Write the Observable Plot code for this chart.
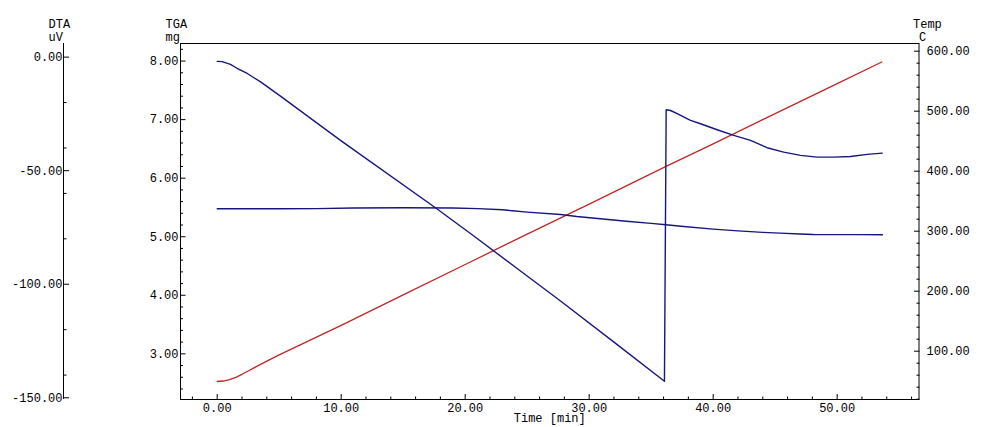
<!DOCTYPE html>
<html><head><meta charset="utf-8">
<script src="https://cdn.jsdelivr.net/npm/d3@7"></script>
<script src="https://cdn.jsdelivr.net/npm/@observablehq/plot@0.6"></script>
<style>
html,body{margin:0;padding:0;background:#fff;}
</style>
</head><body><div id="chart"></div>
<script>
// ---- data ----
const tgaTime = [0, 5, 8, 11, 15, 19, 21, 23, 23.8, 25, 27.7, 29, 30.9, 33, 35, 36.2, 37.4, 40, 42, 44, 45.4, 47, 48.1, 50, 52, 53.65];
const tgaMg   = [5.478, 5.478, 5.48, 5.49, 5.495, 5.49, 5.48, 5.46, 5.443, 5.42, 5.38, 5.345, 5.307, 5.265, 5.228, 5.204, 5.18, 5.13, 5.10, 5.075, 5.061, 5.046, 5.039, 5.036, 5.035, 5.034];

const dtaTime = [0, 0.4, 1.07, 1.6, 2.42, 3.5, 5.10, 10, 17.6, 20.56, 24, 27.69, 32, 36.07, 36.21, 36.56, 37.10, 38.17, 38.98, 40.32, 41.66, 43.01, 44.35, 45.69, 47.04, 48.39, 49.73, 51.07, 52.42, 53.63];
const dtaUv   = [-1.89, -1.98, -3.21, -4.9, -7.2, -10.9, -17.2, -36.9, -66.3, -78.2, -92.3, -107.4, -125.5, -142.7, -23.16, -23.5, -24.92, -27.87, -29.33, -31.97, -34.48, -36.68, -39.89, -41.83, -43.28, -44.03, -44.03, -43.73, -42.84, -42.27];

const tempTime = [0, 0.5, 1, 1.5, 2, 2.5, 3, 4, 5, 10, 15, 20, 25, 30, 36.2, 40, 45, 50, 53.6];
const tempC    = [49.5, 50.3, 52.5, 56.5, 61.5, 67, 72.5, 83.5, 93.8, 143, 194, 244.5, 295, 345, 408, 445.5, 496, 546, 582];

// ---- ticks ----
const timeMajorTicks = [0, 10, 20, 30, 40, 50];
const timeMinorTicks = [-2, 2, 4, 6, 8, 12, 14, 16, 18, 22, 24, 26, 28, 32, 34, 36, 38, 42, 44, 46, 48, 52, 54, 56];
const tgaMajorTicks = [3, 4, 5, 6, 7, 8];
const tgaMinorTicks = [2.4, 2.6, 2.8, 3.2, 3.4, 3.6, 3.8, 4.2, 4.4, 4.6, 4.8, 5.2, 5.4, 5.6, 5.8, 6.2, 6.4, 6.6, 6.8, 7.2, 7.4, 7.6, 7.8, 8.2];
const dtaMajorTicks = [0, -50, -100, -150];
const dtaMinorTicks = [-20, -40, -60, -80, -120, -140];
const tempMajorTicks = [100, 200, 300, 400, 500, 600];
const tempMinorTicks = [20, 40, 60, 80, 120, 140, 160, 180, 220, 240, 260, 280, 320, 340, 360, 380, 420, 440, 460, 480, 520, 540, 560, 580];

// ---- axis titles ----
const dtaTitle = ["DTA", "uV"];
const tgaTitle = ["TGA", "mg"];
const tempTitle = ["Temp", "C"];
const timeTitle = "Time [min]";

// ---- scale domains ----
const timeDomain = [-2.96, 56.6];
const tgaDomain = [2.22, 8.30];
const dtaDomain = [-150.75, 6.0];
const tempDomain = [19.5, 612.8];

const dtaToY = d3.scaleLinear(dtaDomain, tgaDomain);
const tempToY = d3.scaleLinear(tempDomain, tgaDomain);

const tga = tgaTime.map((t, i) => ({t, v: tgaMg[i]}));
const dta = dtaTime.map((t, i) => ({t, v: dtaUv[i]}));
const temp = tempTime.map((t, i) => ({t, v: tempC[i]}));

const blue = "#16167e";
const red = "#c02626";
const fmt = v => (Math.round(v * 100) / 100).toFixed(2);
const noLabel = () => "";
const title = (txt, anchor, dx, dy) =>
  Plot.text([txt], {frameAnchor: anchor, dx, dy, textAnchor: "start", lineAnchor: "bottom"});

const chart = Plot.plot({
  width: 988, height: 427,
  marginLeft: 180, marginRight: 69.5, marginTop: 43, marginBottom: 28,
  style: {fontFamily: '"Liberation Mono", "DejaVu Sans Mono", monospace', fontSize: "12px", color: "#000", background: "#fff", overflow: "visible"},
  x: {domain: timeDomain},
  y: {domain: tgaDomain},
  marks: [
    Plot.frame({stroke: "#000"}),
    // time axis
    Plot.axisX(timeMajorTicks, {anchor: "bottom", tickSize: -5, tickPadding: 8.5, tickFormat: fmt, label: null}),
    Plot.axisX(timeMinorTicks, {anchor: "bottom", tickSize: -2.5, tickFormat: noLabel, label: null}),
    // TGA axis
    Plot.axisY(tgaMajorTicks, {anchor: "left", tickSize: -5.5, tickPadding: 7.5, tickFormat: fmt, label: null}),
    Plot.axisY(tgaMinorTicks, {anchor: "left", tickSize: -3, tickFormat: noLabel, label: null}),
    // DTA axis (offset to the left)
    Plot.ruleX([timeDomain[0]], {dx: -117, stroke: "#000"}),
    Plot.axisY(dtaMajorTicks.map(dtaToY), {anchor: "left", dx: -117, tickSize: -6, tickPadding: 7, tickFormat: v => fmt(dtaToY.invert(v)), label: null}),
    Plot.axisY(dtaMinorTicks.map(dtaToY), {anchor: "left", dx: -117, tickSize: -3.5, tickFormat: noLabel, label: null}),
    // Temp axis
    Plot.axisY(tempMajorTicks.map(tempToY), {anchor: "right", tickSize: -5.5, tickPadding: 13, tickFormat: v => fmt(tempToY.invert(v)), label: null}),
    Plot.axisY(tempMinorTicks.map(tempToY), {anchor: "right", tickSize: -3, tickFormat: noLabel, label: null}),
    // axis titles
    title(dtaTitle[0], "top-left", -132, -16),
    title(dtaTitle[1], "top-left", -132, -2.5),
    title(tgaTitle[0], "top-left", -15, -16),
    title(tgaTitle[1], "top-left", -15, -2.5),
    title(tempTitle[0], "top-right", -6, -16),
    title(tempTitle[1], "top-right", 0, -2.5),
    Plot.text([timeTitle], {frameAnchor: "bottom", dy: 19, textAnchor: "middle", lineAnchor: "middle"}),
    // series
    Plot.line(temp, {x: "t", y: d => tempToY(d.v), stroke: red, strokeWidth: 1.3}),
    Plot.line(tga, {x: "t", y: "v", stroke: blue, strokeWidth: 1.4}),
    Plot.line(dta, {x: "t", y: d => dtaToY(d.v), stroke: blue, strokeWidth: 1.4})
  ]
});
document.getElementById("chart").appendChild(chart);
</script>
</body></html>
